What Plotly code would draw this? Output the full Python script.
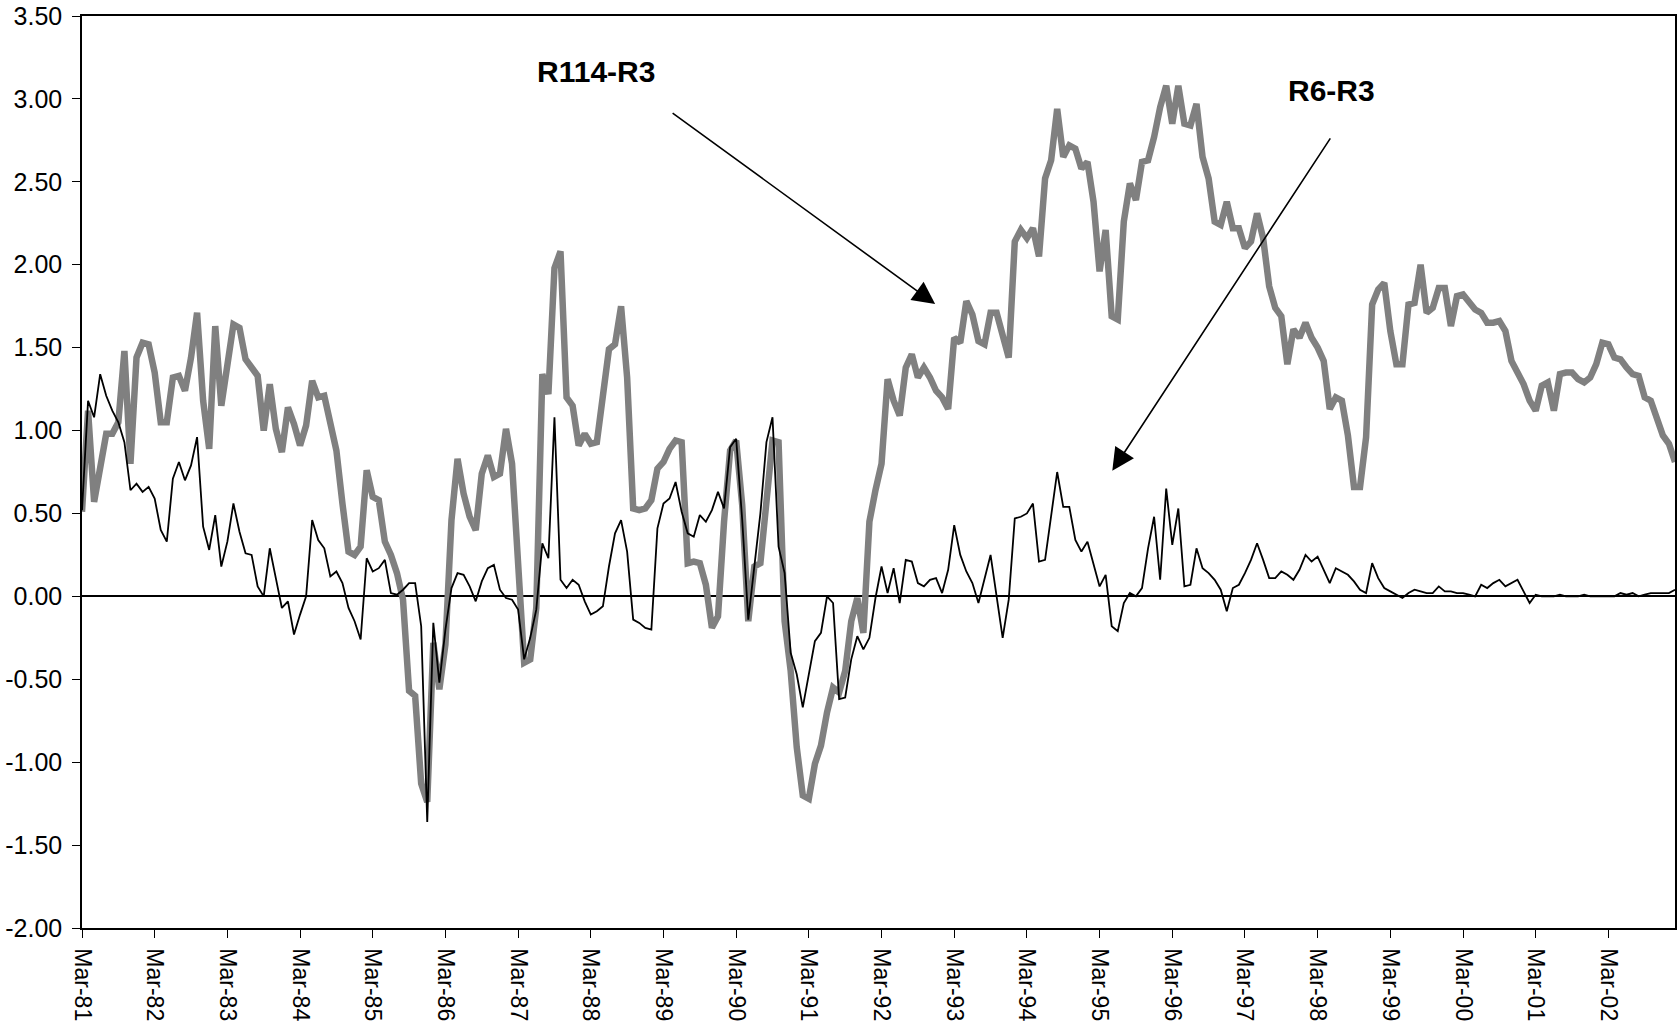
import pandas as pd
import plotly.graph_objects as go

# Monthly categories Mar-81 .. Feb-03
months = pd.date_range("1981-03-01", periods=264, freq="MS").strftime("%b-%y").tolist()
tick_labels = months[::12]

y_tick_values = [-2.0, -1.5, -1.0, -0.5, 0.0, 0.5, 1.0, 1.5, 2.0, 2.5, 3.0, 3.5]
y_tick_text = ["-2.00", "-1.50", "-1.00", "-0.50", "0.00", "0.50",
               "1.00", "1.50", "2.00", "2.50", "3.00", "3.50"]

r114_r3 = [
    0.51, 1.12, 0.57, 0.76, 0.98, 0.98, 1.05, 1.48, 0.80, 1.44, 1.53, 1.52,
    1.35, 1.05, 1.05, 1.32, 1.33, 1.24, 1.44, 1.71, 1.18, 0.89, 1.63, 1.15,
    1.38, 1.64, 1.62, 1.43, 1.38, 1.33, 1.00, 1.28, 1.01, 0.87, 1.14, 1.04,
    0.91, 1.03, 1.30, 1.20, 1.21, 1.03, 0.88, 0.56, 0.27, 0.25, 0.30, 0.76,
    0.60, 0.58, 0.33, 0.25, 0.14, -0.02, -0.57, -0.60, -1.13, -1.24, -0.28, -0.56,
    -0.29, 0.46, 0.83, 0.62, 0.48, 0.40, 0.74, 0.85, 0.72, 0.74, 1.01, 0.80,
    0.25, -0.40, -0.38, -0.07, 1.34, 1.22, 1.98, 2.08, 1.20, 1.15, 0.91, 0.98,
    0.92, 0.93, 1.21, 1.49, 1.52, 1.75, 1.32, 0.53, 0.52, 0.53, 0.58, 0.77,
    0.81, 0.89, 0.94, 0.93, 0.20, 0.21, 0.20, 0.07, -0.19, -0.12, 0.45, 0.88,
    0.94, 0.55, -0.15, 0.18, 0.20, 0.54, 0.94, 0.93, -0.15, -0.45, -0.91, -1.20,
    -1.22, -1.01, -0.90, -0.70, -0.55, -0.58, -0.45, -0.15, -0.01, -0.22, 0.45, 0.64,
    0.80, 1.31, 1.18, 1.09, 1.38, 1.46, 1.32, 1.38, 1.32, 1.24, 1.20, 1.13,
    1.56, 1.53, 1.78, 1.70, 1.54, 1.52, 1.71, 1.71, 1.58, 1.44, 2.14, 2.21,
    2.16, 2.22, 2.05, 2.52, 2.63, 2.94, 2.65, 2.72, 2.70, 2.58, 2.62, 2.38,
    1.96, 2.21, 1.69, 1.67, 2.26, 2.49, 2.39, 2.62, 2.63, 2.77, 2.95, 3.08,
    2.85, 3.08, 2.85, 2.84, 2.97, 2.65, 2.52, 2.26, 2.24, 2.38, 2.22, 2.22,
    2.10, 2.14, 2.31, 2.16, 1.87, 1.74, 1.69, 1.40, 1.61, 1.56, 1.65, 1.56,
    1.50, 1.42, 1.13, 1.20, 1.18, 0.97, 0.66, 0.66, 0.96, 1.76, 1.85, 1.89,
    1.60, 1.40, 1.40, 1.76, 1.77, 2.00, 1.71, 1.74, 1.86, 1.86, 1.63, 1.81,
    1.82, 1.77, 1.73, 1.71, 1.65, 1.65, 1.66, 1.60, 1.42, 1.35, 1.28, 1.18,
    1.12, 1.27, 1.29, 1.12, 1.34, 1.35, 1.35, 1.31, 1.29, 1.32, 1.40, 1.53,
    1.52, 1.44, 1.43, 1.38, 1.34, 1.33, 1.20, 1.18, 1.06, 0.97, 0.92, 0.81,
]

r6_r3 = [
    0.52, 1.18, 1.08, 1.34, 1.21, 1.12, 1.05, 0.93, 0.64, 0.68, 0.63, 0.66,
    0.59, 0.40, 0.33, 0.71, 0.81, 0.70, 0.79, 0.96, 0.42, 0.28, 0.49, 0.18,
    0.33, 0.56, 0.39, 0.26, 0.25, 0.06, 0.00, 0.29, 0.11, -0.07, -0.03, -0.23,
    -0.11, 0.00, 0.46, 0.34, 0.29, 0.12, 0.15, 0.08, -0.07, -0.15, -0.26, 0.23,
    0.15, 0.17, 0.22, 0.02, 0.01, 0.04, 0.08, 0.08, -0.18, -1.36, -0.16, -0.52,
    -0.20, 0.05, 0.14, 0.13, 0.06, -0.03, 0.09, 0.17, 0.19, 0.04, -0.01, -0.02,
    -0.08, -0.38, -0.25, -0.08, 0.32, 0.23, 1.08, 0.10, 0.05, 0.10, 0.07, -0.03,
    -0.11, -0.09, -0.06, 0.18, 0.38, 0.46, 0.27, -0.14, -0.16, -0.19, -0.20, 0.41,
    0.56, 0.59, 0.69, 0.51, 0.38, 0.36, 0.49, 0.45, 0.52, 0.63, 0.53, 0.90,
    0.95, 0.46, -0.14, 0.17, 0.50, 0.93, 1.08, 0.30, 0.14, -0.34, -0.47, -0.67,
    -0.46, -0.27, -0.22, 0.00, -0.04, -0.62, -0.61, -0.38, -0.24, -0.32, -0.25, -0.01,
    0.18, 0.02, 0.17, -0.04, 0.22, 0.21, 0.08, 0.06, 0.10, 0.11, 0.02, 0.16,
    0.43, 0.25, 0.15, 0.08, -0.04, 0.10, 0.25, 0.00, -0.25, -0.02, 0.47, 0.48,
    0.50, 0.56, 0.21, 0.22, 0.50, 0.75, 0.54, 0.54, 0.34, 0.27, 0.33, 0.20,
    0.06, 0.13, -0.18, -0.21, -0.04, 0.02, 0.00, 0.05, 0.29, 0.48, 0.10, 0.65,
    0.31, 0.53, 0.06, 0.07, 0.29, 0.17, 0.14, 0.10, 0.04, -0.09, 0.05, 0.07,
    0.14, 0.22, 0.32, 0.22, 0.11, 0.11, 0.15, 0.13, 0.10, 0.16, 0.25, 0.21,
    0.24, 0.16, 0.08, 0.17, 0.15, 0.13, 0.09, 0.04, 0.02, 0.20, 0.11, 0.05,
    0.03, 0.01, -0.01, 0.02, 0.04, 0.03, 0.02, 0.02, 0.06, 0.03, 0.03, 0.02,
    0.02, 0.01, 0.00, 0.07, 0.05, 0.08, 0.10, 0.06, 0.08, 0.10, 0.03, -0.04,
    0.01, 0.00, 0.00, 0.00, 0.01, 0.00, 0.00, 0.00, 0.01, 0.00, 0.00, 0.00,
    0.00, 0.00, 0.02, 0.01, 0.02, 0.00, 0.01, 0.02, 0.02, 0.02, 0.02, 0.04,
]

fig = go.Figure()
fig.add_trace(go.Scatter(x=months, y=r114_r3, mode="lines", name="R114-R3",
                         line=dict(color="#808080", width=6.5)))
fig.add_trace(go.Scatter(x=months, y=r6_r3, mode="lines", name="R6-R3",
                         line=dict(color="#000000", width=1.8)))

font_family = "Arial, Liberation Sans, sans-serif"

fig.update_layout(
    width=1679, height=1033,
    margin=dict(l=82, r=2, t=15, b=105, pad=0),
    paper_bgcolor="white", plot_bgcolor="white",
    showlegend=False,
    font=dict(family=font_family, color="black"),
    xaxis=dict(
        type="category", range=[0, len(months) - 1],
        tickmode="array", tickvals=tick_labels, ticktext=tick_labels,
        tickangle=90, ticks="outside", ticklen=8, tickwidth=1, tickcolor="black",
        ticklabelstandoff=6,
        tickfont=dict(size=23, family=font_family, color="black"),
        showline=True, linecolor="black", linewidth=1.5, mirror=True,
        showgrid=False, zeroline=False,
    ),
    yaxis=dict(
        range=[-2, 3.5], tickmode="array", tickvals=y_tick_values, ticktext=y_tick_text,
        ticks="outside", ticklen=8, tickwidth=1, tickcolor="black",
        ticklabelstandoff=5,
        tickfont=dict(size=25, family=font_family, color="black"),
        showline=True, linecolor="black", linewidth=1.5, mirror=True,
        showgrid=False, zeroline=True, zerolinecolor="black", zerolinewidth=2,
    ),
    annotations=[
        dict(x=84.9, y=3.167, xref="x", yref="y", text="<b>R114-R3</b>", showarrow=False,
             font=dict(size=30, family=font_family, color="black")),
        dict(x=206.3, y=3.052, xref="x", yref="y", text="<b>R6-R3</b>", showarrow=False,
             font=dict(size=30, family=font_family, color="black")),
        dict(x=140.85, y=1.763, xref="x", yref="y", text="", showarrow=True,
             ax=-264, ay=-192, arrowhead=2, arrowsize=2.8, arrowwidth=1.6,
             arrowcolor="black", standoff=0, startstandoff=0),
        dict(x=170.1, y=0.757, xref="x", yref="y", text="", showarrow=True,
             ax=219, ay=-334, arrowhead=2, arrowsize=2.8, arrowwidth=1.6,
             arrowcolor="black", standoff=0, startstandoff=0),
    ],
)

fig.write_html("out.html", config={"displayModeBar": False},
               post_script="document.body.style.margin='0';")
